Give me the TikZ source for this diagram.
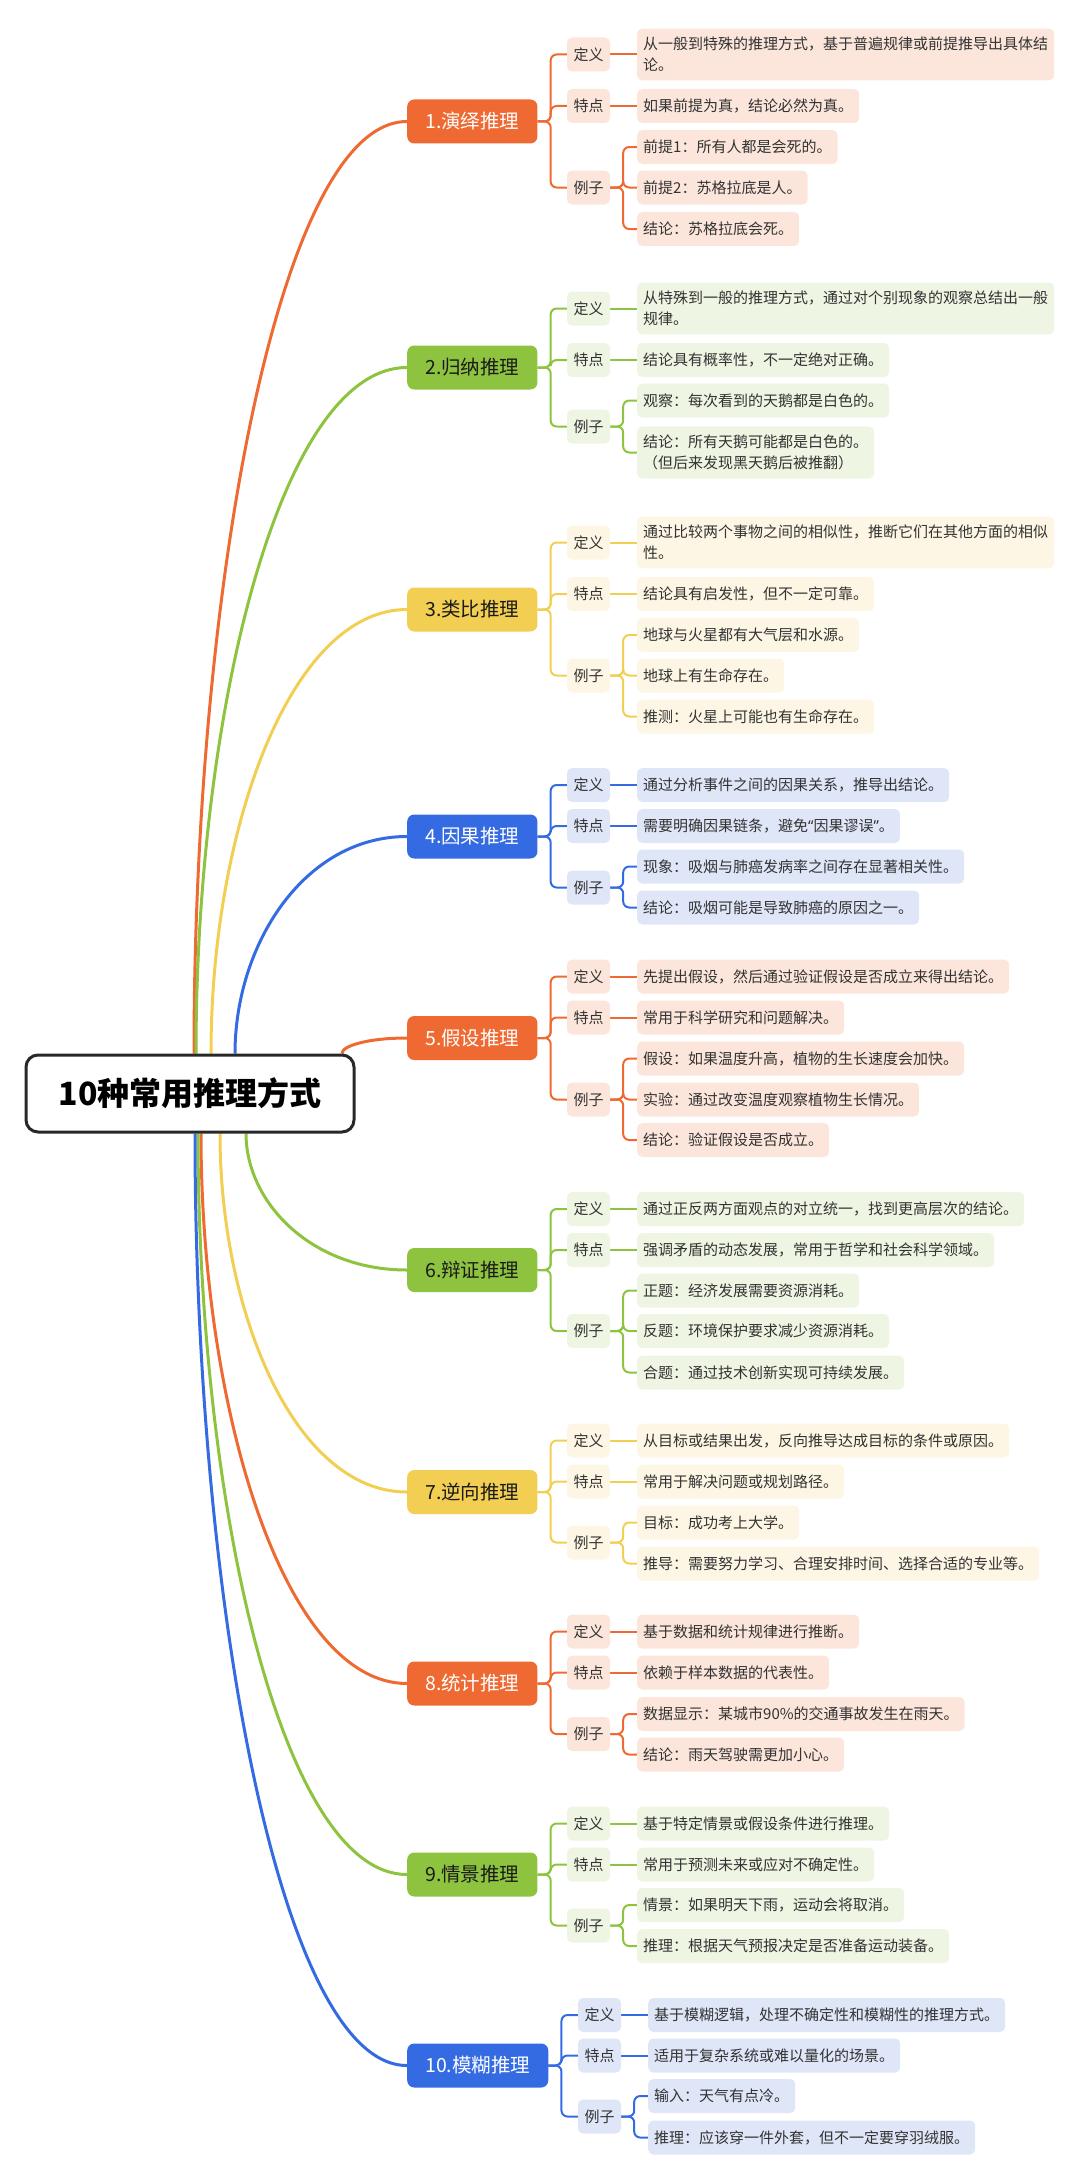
\documentclass[tikz,border=0pt]{standalone}
\usepackage{fontspec}
\setmainfont{Noto Sans CJK SC}
\newfontfamily\quotefont{Noto Sans}
\usetikzlibrary{calc}

\definecolor{dkorange}{RGB}{238,106,50}
\definecolor{ltorange}{RGB}{252,230,219}
\definecolor{dkgreen}{RGB}{142,195,64}
\definecolor{ltgreen}{RGB}{238,245,227}
\definecolor{dkyellow}{RGB}{242,206,82}
\definecolor{ltyellow}{RGB}{253,246,228}
\definecolor{dkblue}{RGB}{52,107,227}
\definecolor{ltblue}{RGB}{222,230,248}
\definecolor{rootline}{RGB}{40,40,40}
\definecolor{textgray}{RGB}{51,51,51}
\definecolor{textdark}{RGB}{26,26,26}

\tikzset{
  rootbox/.style={draw=rootline, line width=3pt, fill=white, rounded corners=12pt,
    minimum width=328pt, minimum height=77pt, text=black,
    font=\fontsize{32}{38}\selectfont\bfseries},
  topicbox/.style 2 args={fill=#1, text=#2, rounded corners=7pt, anchor=west,
    minimum height=44pt, inner xsep=18pt, font=\fontsize{19.5}{24}\selectfont},
  tagbox/.style={fill=#1, text=textgray, rounded corners=5pt, minimum height=34pt,
    inner xsep=6.5pt, font=\fontsize{15}{21}\selectfont},
  leafbox/.style={fill=#1, text=textgray, rounded corners=5pt, anchor=west, align=left,
    minimum height=34pt, inner xsep=6pt, inner ysep=8.5pt, font=\fontsize{15}{21}\selectfont},
  mainline/.style={draw=#1, line width=3pt},
  subline/.style={draw=#1, line width=2pt, rounded corners=6pt},
}

\pgfdeclarelayer{bg}
\pgfsetlayers{bg,main}

\begin{document}
\begin{tikzpicture}[x=1pt,y=-1pt]
\useasboundingbox (0,0) rectangle (1080,2181);

% Root
\node[rootbox] (root) at (190,1093.5) {10种常用推理方式};
\coordinate (p1) at ([xshift=4pt]root.north);
\coordinate (p2) at ([xshift=6pt]root.north);
\coordinate (p3) at ([xshift=21pt]root.north);
\coordinate (p4) at ([xshift=45pt]root.north);
\coordinate (p5) at ([xshift=152pt]root.north);
\coordinate (p6) at ([xshift=56pt]root.south);
\coordinate (p7) at ([xshift=30pt]root.south);
\coordinate (p8) at ([xshift=11pt]root.south);
\coordinate (p9) at ([xshift=8pt]root.south);
\coordinate (p10) at ([xshift=5pt]root.south);

% 1
\node[topicbox={dkorange}{white}] (t1) at (407,121.5) {1.演绎推理};
\node[tagbox=ltorange] (d1) at (588.5,54.5) {定义};
\node[tagbox=ltorange] (f1) at (588.5,106) {特点};
\node[tagbox=ltorange] (e1) at (588.5,187.5) {例子};
\node[leafbox=ltorange] (dl1) at (637,54.5) {从一般到特殊的推理方式，基于普遍规律或前提推导出具体结\\论。};
\node[leafbox=ltorange] (fl1) at (637,106) {如果前提为真，结论必然为真。};
\node[leafbox=ltorange] (e1-1) at (637,147) {前提1：所有人都是会死的。};
\node[leafbox=ltorange] (e1-2) at (637,187.5) {前提2：苏格拉底是人。};
\node[leafbox=ltorange] (e1-3) at (637,229) {结论：苏格拉底会死。};

% 2
\node[topicbox={dkgreen}{textdark}] (t2) at (407,367.5) {2.归纳推理};
\node[tagbox=ltgreen] (d2) at (588.5,308.5) {定义};
\node[tagbox=ltgreen] (f2) at (588.5,360) {特点};
\node[tagbox=ltgreen] (e2) at (588.5,426.5) {例子};
\node[leafbox=ltgreen] (dl2) at (637,308.5) {从特殊到一般的推理方式，通过对个别现象的观察总结出一般\\规律。};
\node[leafbox=ltgreen] (fl2) at (637,360) {结论具有概率性，不一定绝对正确。};
\node[leafbox=ltgreen] (e2-1) at (637,400.5) {观察：每次看到的天鹅都是白色的。};
\node[leafbox=ltgreen] (e2-2) at (637,452.5) {结论：所有天鹅可能都是白色的。\\（但后来发现黑天鹅后被推翻）};

% 3
\node[topicbox={dkyellow}{textdark}] (t3) at (407,609.5) {3.类比推理};
\node[tagbox=ltyellow] (d3) at (588.5,542.5) {定义};
\node[tagbox=ltyellow] (f3) at (588.5,594) {特点};
\node[tagbox=ltyellow] (e3) at (588.5,675.5) {例子};
\node[leafbox=ltyellow] (dl3) at (637,542.5) {通过比较两个事物之间的相似性，推断它们在其他方面的相似\\性。};
\node[leafbox=ltyellow] (fl3) at (637,594) {结论具有启发性，但不一定可靠。};
\node[leafbox=ltyellow] (e3-1) at (637,635) {地球与火星都有大气层和水源。};
\node[leafbox=ltyellow] (e3-2) at (637,675.5) {地球上有生命存在。};
\node[leafbox=ltyellow] (e3-3) at (637,716.5) {推测：火星上可能也有生命存在。};

% 4
\node[topicbox={dkblue}{white}] (t4) at (407,836.5) {4.因果推理};
\node[tagbox=ltblue] (d4) at (588.5,785) {定义};
\node[tagbox=ltblue] (f4) at (588.5,826) {特点};
\node[tagbox=ltblue] (e4) at (588.5,887.5) {例子};
\node[leafbox=ltblue] (dl4) at (637,785) {通过分析事件之间的因果关系，推导出结论。};
\node[leafbox=ltblue] (fl4) at (637,826) {需要明确因果链条，避免{\quotefont “}因果谬误{\quotefont ”}。};
\node[leafbox=ltblue] (e4-1) at (637,866.5) {现象：吸烟与肺癌发病率之间存在显著相关性。};
\node[leafbox=ltblue] (e4-2) at (637,907.5) {结论：吸烟可能是导致肺癌的原因之一。};

% 5
\node[topicbox={dkorange}{white}] (t5) at (407,1038) {5.假设推理};
\node[tagbox=ltorange] (d5) at (588.5,976.5) {定义};
\node[tagbox=ltorange] (f5) at (588.5,1017.5) {特点};
\node[tagbox=ltorange] (e5) at (588.5,1099.5) {例子};
\node[leafbox=ltorange] (dl5) at (637,976.5) {先提出假设，然后通过验证假设是否成立来得出结论。};
\node[leafbox=ltorange] (fl5) at (637,1017.5) {常用于科学研究和问题解决。};
\node[leafbox=ltorange] (e5-1) at (637,1058.5) {假设：如果温度升高，植物的生长速度会加快。};
\node[leafbox=ltorange] (e5-2) at (637,1099.5) {实验：通过改变温度观察植物生长情况。};
\node[leafbox=ltorange] (e5-3) at (637,1140) {结论：验证假设是否成立。};

% 6
\node[topicbox={dkgreen}{textdark}] (t6) at (407,1270) {6.辩证推理};
\node[tagbox=ltgreen] (d6) at (588.5,1209) {定义};
\node[tagbox=ltgreen] (f6) at (588.5,1250) {特点};
\node[tagbox=ltgreen] (e6) at (588.5,1331) {例子};
\node[leafbox=ltgreen] (dl6) at (637,1209) {通过正反两方面观点的对立统一，找到更高层次的结论。};
\node[leafbox=ltgreen] (fl6) at (637,1250) {强调矛盾的动态发展，常用于哲学和社会科学领域。};
\node[leafbox=ltgreen] (e6-1) at (637,1290.5) {正题：经济发展需要资源消耗。};
\node[leafbox=ltgreen] (e6-2) at (637,1331) {反题：环境保护要求减少资源消耗。};
\node[leafbox=ltgreen] (e6-3) at (637,1372.5) {合题：通过技术创新实现可持续发展。};

% 7
\node[topicbox={dkyellow}{textdark}] (t7) at (407,1492) {7.逆向推理};
\node[tagbox=ltyellow] (d7) at (588.5,1440.5) {定义};
\node[tagbox=ltyellow] (f7) at (588.5,1481.5) {特点};
\node[tagbox=ltyellow] (e7) at (588.5,1542.5) {例子};
\node[leafbox=ltyellow] (dl7) at (637,1440.5) {从目标或结果出发，反向推导达成目标的条件或原因。};
\node[leafbox=ltyellow] (fl7) at (637,1481.5) {常用于解决问题或规划路径。};
\node[leafbox=ltyellow] (e7-1) at (637,1522.5) {目标：成功考上大学。};
\node[leafbox=ltyellow] (e7-2) at (637,1563.5) {推导：需要努力学习、合理安排时间、选择合适的专业等。};

% 8
\node[topicbox={dkorange}{white}] (t8) at (407,1683.5) {8.统计推理};
\node[tagbox=ltorange] (d8) at (588.5,1631.5) {定义};
\node[tagbox=ltorange] (f8) at (588.5,1672.5) {特点};
\node[tagbox=ltorange] (e8) at (588.5,1734) {例子};
\node[leafbox=ltorange] (dl8) at (637,1631.5) {基于数据和统计规律进行推断。};
\node[leafbox=ltorange] (fl8) at (637,1672.5) {依赖于样本数据的代表性。};
\node[leafbox=ltorange] (e8-1) at (637,1714) {数据显示：某城市90\%的交通事故发生在雨天。};
\node[leafbox=ltorange] (e8-2) at (637,1754.5) {结论：雨天驾驶需更加小心。};

% 9
\node[topicbox={dkgreen}{textdark}] (t9) at (407,1874.5) {9.情景推理};
\node[tagbox=ltgreen] (d9) at (588.5,1823.5) {定义};
\node[tagbox=ltgreen] (f9) at (588.5,1864.5) {特点};
\node[tagbox=ltgreen] (e9) at (588.5,1925.5) {例子};
\node[leafbox=ltgreen] (dl9) at (637,1823.5) {基于特定情景或假设条件进行推理。};
\node[leafbox=ltgreen] (fl9) at (637,1864.5) {常用于预测未来或应对不确定性。};
\node[leafbox=ltgreen] (e9-1) at (637,1905) {情景：如果明天下雨，运动会将取消。};
\node[leafbox=ltgreen] (e9-2) at (637,1946) {推理：根据天气预报决定是否准备运动装备。};

% 10
\node[topicbox={dkblue}{white}] (t10) at (407,2065.5) {10.模糊推理};
\node[tagbox=ltblue] (d10) at (599.5,2015) {定义};
\node[tagbox=ltblue] (f10) at (599.5,2055.5) {特点};
\node[tagbox=ltblue] (e10) at (599.5,2116.5) {例子};
\node[leafbox=ltblue] (dl10) at (648,2015) {基于模糊逻辑，处理不确定性和模糊性的推理方式。};
\node[leafbox=ltblue] (fl10) at (648,2055.5) {适用于复杂系统或难以量化的场景。};
\node[leafbox=ltblue] (e10-1) at (648,2096) {输入：天气有点冷。};
\node[leafbox=ltblue] (e10-2) at (648,2137.5) {推理：应该穿一件外套，但不一定要穿羽绒服。};

\begin{pgfonlayer}{bg}
% Root to topics
\foreach \t/\c in {1/dkorange,2/dkgreen,3/dkyellow,4/dkblue,5/dkorange,6/dkgreen,7/dkyellow,8/dkorange,9/dkgreen,10/dkblue}
  \draw[mainline=\c] (p\t) .. controls ($(p\t)!0.5!(p\t |- t\t.west)$) and ($(p\t |- t\t.west)!0.4!(t\t.west)$) .. (t\t.west);
% Topics to tags, tags to leaves
\foreach \t/\c in {1/dkorange,2/dkgreen,3/dkyellow,4/dkblue,5/dkorange,6/dkgreen,7/dkyellow,8/dkorange,9/dkgreen,10/dkblue}{
  \foreach \g in {d,f,e}
    \draw[subline=\c] (t\t.east) -- ++(13,0) |- (\g\t.west);
  \draw[subline=\c] (d\t.east) -- (dl\t.west);
  \draw[subline=\c] (f\t.east) -- (fl\t.west);
}
% Examples
\foreach \t/\n/\c in {1/3/dkorange,2/2/dkgreen,3/3/dkyellow,4/2/dkblue,5/3/dkorange,6/3/dkgreen,7/2/dkyellow,8/2/dkorange,9/2/dkgreen,10/2/dkblue}
  \foreach \k in {1,...,\n}
    \draw[subline=\c] (e\t.east) -- ++(13,0) |- (e\t-\k.west);
\end{pgfonlayer}

\end{tikzpicture}
\end{document}
